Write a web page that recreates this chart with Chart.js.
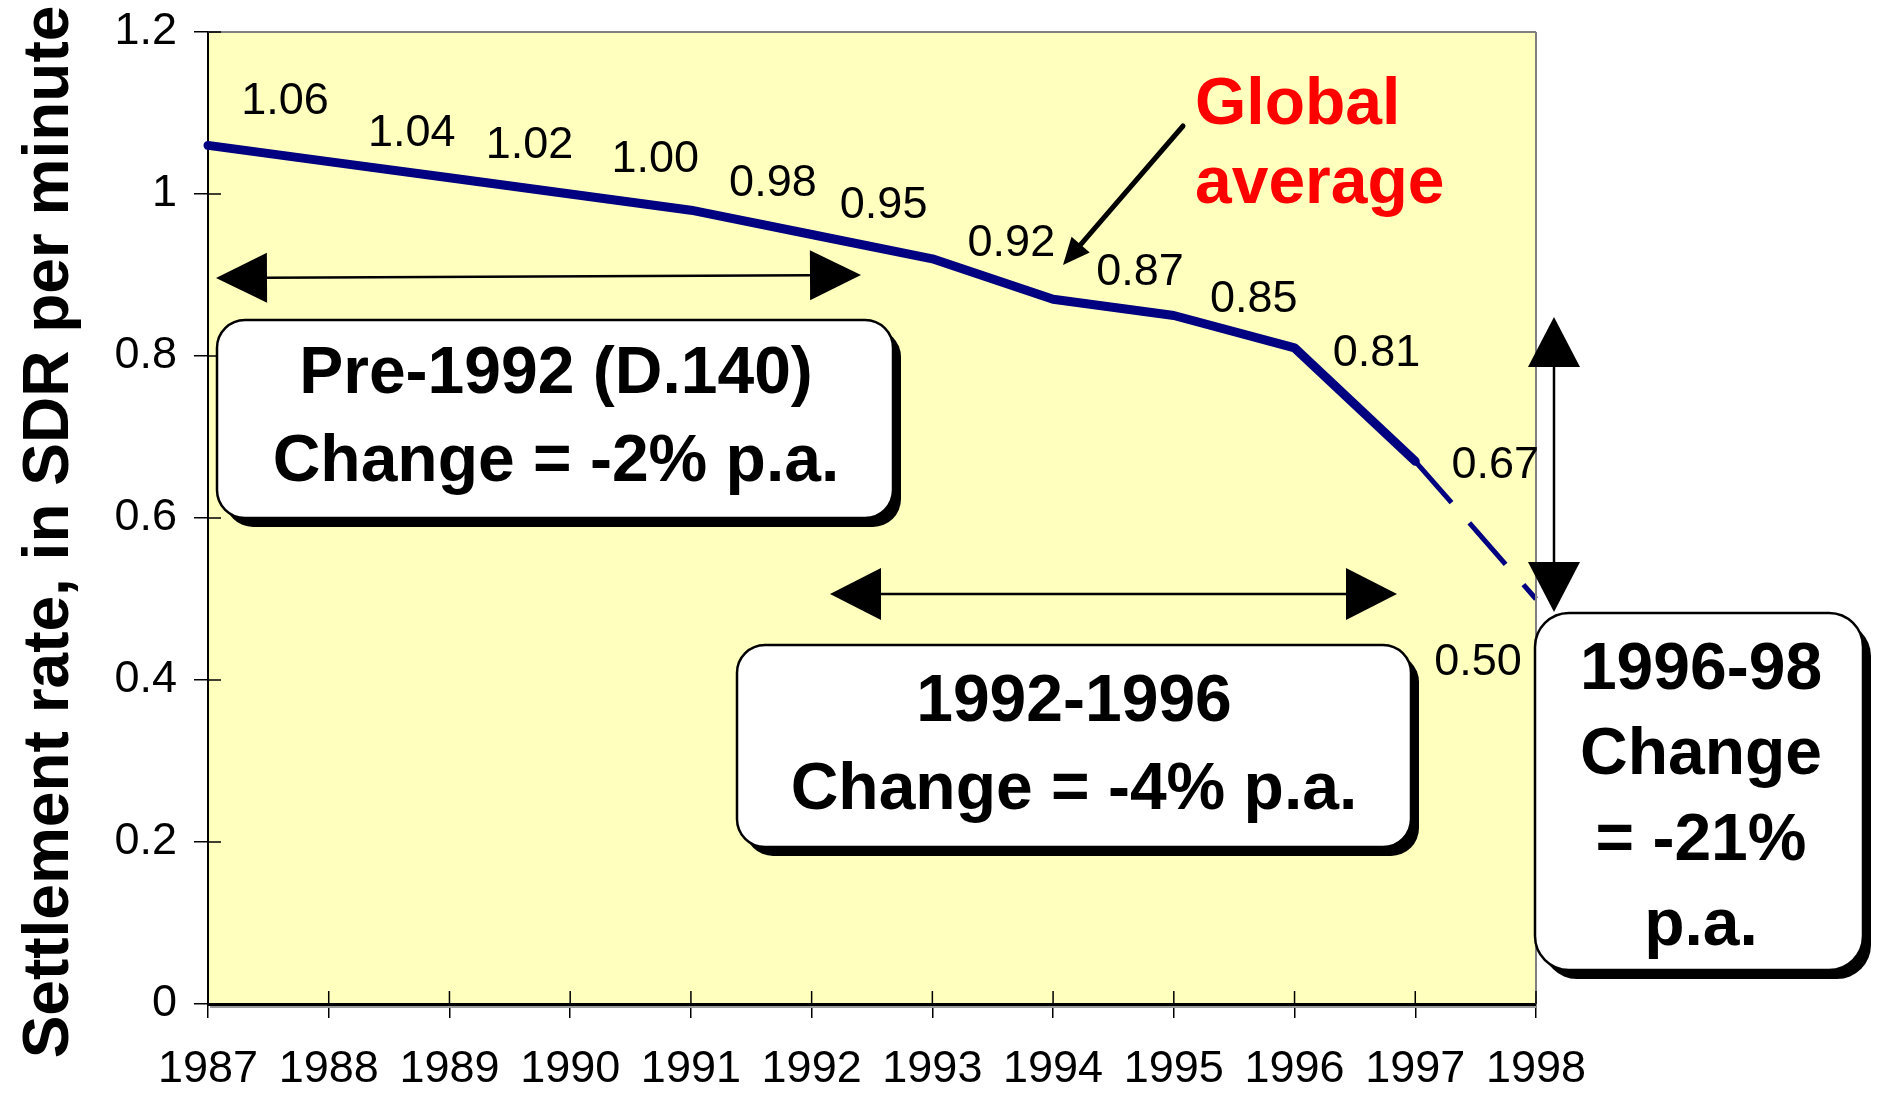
<!DOCTYPE html>
<html>
<head>
<meta charset="utf-8">
<title>Settlement rate</title>
<script src="https://cdn.jsdelivr.net/npm/chart.js@4/dist/chart.umd.min.js"></script>
<style>
  html, body { margin: 0; padding: 0; background: #ffffff; }
  canvas { display: block; }
</style>
</head>
<body>
<canvas id="chart" width="1879" height="1093"></canvas>
<script>
// ---- data ----
const years = ['1987', '1988', '1989', '1990', '1991', '1992', '1993', '1994', '1995', '1996', '1997', '1998'];
const rates = [1.06, 1.04, 1.02, 1.00, 0.98, 0.95, 0.92, 0.87, 0.85, 0.81, 0.67, 0.50];
const yTickLabels = ['0', '0.2', '0.4', '0.6', '0.8', '1', '1.2'];
const firstProjectedYear = '1997';   // line is dashed from this year on

// ---- texts ----
const axisTitle = 'Settlement rate, in SDR per minute';
const seriesNote = ['Global', 'average'];
const periodNotes = [
  ['Pre-1992 (D.140)', 'Change = -2% p.a.'],
  ['1992-1996', 'Change = -4% p.a.'],
  ['1996-98', 'Change', '= -21%', 'p.a.']
];

const FONT = "'Liberation Sans', Arial, Helvetica, sans-serif";
const NAVY = '#000080';
const NOTE_FONT = 'bold 66px ' + FONT;

const split = years.indexOf(firstProjectedYear);
const solidPart = rates.map((v, i) => (i <= split ? v : null));
const dashedPart = rates.map((v, i) => (i >= split ? v : null));

// where each value label sits relative to its point (px)
const labelOffsets = [[77, -47], [83, -32], [80, -36], [85, -38], [82, -30], [72, -33],
                      [79, -19], [87, -30], [80, -20], [82, 2], [80, 1], [-58, 60]];

function roundRect(ctx, x, y, w, h, r) {
  ctx.beginPath();
  ctx.moveTo(x + r, y);
  ctx.arcTo(x + w, y, x + w, y + h, r);
  ctx.arcTo(x + w, y + h, x, y + h, r);
  ctx.arcTo(x, y + h, x, y, r);
  ctx.arcTo(x, y, x + w, y, r);
  ctx.closePath();
}

function calloutBox(ctx, b, lines, cx, baselines) {
  ctx.save();
  ctx.fillStyle = '#000';
  roundRect(ctx, b.x + 8, b.y + 9, b.w, b.h, b.r);
  ctx.fill();
  ctx.fillStyle = '#fff';
  roundRect(ctx, b.x, b.y, b.w, b.h, b.r);
  ctx.fill();
  ctx.lineWidth = 2.5;
  ctx.strokeStyle = '#000';
  ctx.stroke();
  ctx.fillStyle = '#000';
  ctx.font = NOTE_FONT;
  ctx.textAlign = 'center';
  ctx.textBaseline = 'alphabetic';
  lines.forEach((t, i) => ctx.fillText(t, cx, baselines[i]));
  ctx.restore();
}

function tri(ctx, tip, baseCenter, half) {
  const dx = tip[0] - baseCenter[0], dy = tip[1] - baseCenter[1];
  const len = Math.hypot(dx, dy);
  const nx = -dy / len, ny = dx / len;
  ctx.beginPath();
  ctx.moveTo(tip[0], tip[1]);
  ctx.lineTo(baseCenter[0] + nx * half, baseCenter[1] + ny * half);
  ctx.lineTo(baseCenter[0] - nx * half, baseCenter[1] - ny * half);
  ctx.closePath();
  ctx.fill();
}

function doubleArrow(ctx, a, b, head, half, width) {
  const dx = b[0] - a[0], dy = b[1] - a[1];
  const len = Math.hypot(dx, dy);
  const ux = dx / len, uy = dy / len;
  const aBase = [a[0] + ux * head, a[1] + uy * head];
  const bBase = [b[0] - ux * head, b[1] - uy * head];
  ctx.save();
  ctx.strokeStyle = '#000';
  ctx.fillStyle = '#000';
  ctx.lineWidth = width;
  ctx.beginPath();
  ctx.moveTo(aBase[0], aBase[1]);
  ctx.lineTo(bBase[0], bBase[1]);
  ctx.stroke();
  tri(ctx, a, aBase, half);
  tri(ctx, b, bBase, half);
  ctx.restore();
}

function singleArrow(ctx, from, to, head, half, width) {
  const dx = to[0] - from[0], dy = to[1] - from[1];
  const len = Math.hypot(dx, dy);
  const ux = dx / len, uy = dy / len;
  const base = [to[0] - ux * head, to[1] - uy * head];
  ctx.save();
  ctx.strokeStyle = '#000';
  ctx.fillStyle = '#000';
  ctx.lineWidth = width;
  ctx.lineCap = 'round';
  ctx.beginPath();
  ctx.moveTo(from[0], from[1]);
  ctx.lineTo(base[0] + ux * 2, base[1] + uy * 2);
  ctx.stroke();
  tri(ctx, to, base, half);
  ctx.restore();
}

// yellow plot area
const plotBackground = {
  id: 'plotBackground',
  beforeDraw(chart) {
    const { ctx, chartArea: a } = chart;
    ctx.save();
    ctx.fillStyle = '#FFFFBE';
    ctx.fillRect(a.left, a.top, a.right - a.left, a.bottom - a.top);
    ctx.restore();
  }
};

// frame details, value labels and the period call-outs
const decorations = {
  id: 'decorations',
  afterDraw(chart) {
    const { ctx, chartArea: a, scales } = chart;
    const xs = scales.x, ys = scales.y;
    ctx.save();

    // gray top / right frame and the axis shadow
    ctx.strokeStyle = '#808080';
    ctx.lineWidth = 2;
    ctx.beginPath();
    ctx.moveTo(a.left, a.top); ctx.lineTo(a.right, a.top);
    ctx.moveTo(a.right, a.top); ctx.lineTo(a.right, a.bottom);
    ctx.stroke();
    ctx.strokeStyle = '#9a9a9a';
    ctx.lineWidth = 2;
    ctx.beginPath();
    ctx.moveTo(a.left + 2, a.bottom + 3); ctx.lineTo(a.right, a.bottom + 3);
    ctx.stroke();

    // tick marks crossing into the plot area
    ctx.strokeStyle = '#000';
    ctx.lineWidth = 1.5;
    ctx.beginPath();
    xs.ticks.forEach((t, i) => {
      const px = xs.getPixelForTick(i);
      ctx.moveTo(px, a.bottom); ctx.lineTo(px, a.bottom - 13);
    });
    ys.ticks.forEach((t, i) => {
      const py = ys.getPixelForTick(i);
      ctx.moveTo(a.left, py); ctx.lineTo(a.left + 13, py);
    });
    ctx.stroke();

    // axis title
    ctx.save();
    ctx.translate(68, 532);
    ctx.rotate(-Math.PI / 2);
    ctx.fillStyle = '#000';
    ctx.font = 'bold 64px ' + FONT;
    ctx.textAlign = 'center';
    ctx.textBaseline = 'alphabetic';
    ctx.fillText(axisTitle, 0, 0);
    ctx.restore();

    // value labels
    ctx.fillStyle = '#000';
    ctx.font = '45px ' + FONT;
    ctx.textAlign = 'center';
    ctx.textBaseline = 'alphabetic';
    rates.forEach((v, i) => {
      const px = xs.getPixelForValue(i);
      const py = ys.getPixelForValue(v);
      const off = labelOffsets[i];
      ctx.fillText(v.toFixed(2), px + off[0], py + off[1] + 16);
    });

    // series note
    ctx.fillStyle = '#FF0000';
    ctx.font = NOTE_FONT;
    ctx.textAlign = 'left';
    ctx.fillText(seriesNote[0], 1195, 124);
    ctx.fillText(seriesNote[1], 1195, 203);
    singleArrow(ctx, [1183, 126], [1063, 265], 27, 12, 5);

    // period arrows
    doubleArrow(ctx, [216, 278], [861, 275], 51, 25, 2.5);
    doubleArrow(ctx, [830, 594], [1397, 594], 51, 26, 2.5);
    doubleArrow(ctx, [1554, 317], [1554, 612], 50, 26, 2.5);

    // call-out boxes
    calloutBox(ctx, { x: 217, y: 320, w: 676, h: 198, r: 28 }, periodNotes[0], 556, [393, 481]);
    calloutBox(ctx, { x: 737, y: 645, w: 674, h: 202, r: 28 }, periodNotes[1], 1074, [721, 809]);
    calloutBox(ctx, { x: 1535, y: 613, w: 328, h: 357, r: 34 }, periodNotes[2], 1701, [689, 774, 860, 945]);

    ctx.restore();
  }
};

const axisGrid = {
  display: true,
  drawOnChartArea: false,
  drawTicks: true,
  tickLength: 14,
  color: '#000',
  lineWidth: 1.5
};

new Chart(document.getElementById('chart'), {
  type: 'line',
  data: {
    labels: years,
    datasets: [
      {
        data: solidPart,
        borderColor: NAVY,
        borderWidth: 9,
        borderCapStyle: 'round',
        borderJoinStyle: 'round',
        pointRadius: 0,
        tension: 0,
        clip: 10
      },
      {
        data: dashedPart,
        borderColor: NAVY,
        borderWidth: 5,
        borderDash: [55, 27],
        pointRadius: 0,
        tension: 0,
        clip: 10
      }
    ]
  },
  options: {
    responsive: false,
    animation: false,
    devicePixelRatio: 1,
    layout: { padding: { top: 32, right: 343, left: 0, bottom: 0 } },
    plugins: { legend: { display: false }, tooltip: { enabled: false } },
    scales: {
      x: {
        offset: false,
        grid: axisGrid,
        border: { display: true, color: '#000', width: 3 },
        ticks: {
          font: { family: FONT, size: 45 },
          color: '#000',
          padding: 25,
          autoSkip: false,
          maxRotation: 0,
          minRotation: 0
        },
        afterFit(scale) {
          scale.height = 89;
          scale.paddingLeft = 0;
          scale.paddingRight = 0;
        }
      },
      y: {
        min: 0,
        max: 1.2,
        grid: axisGrid,
        border: { display: true, color: '#000', width: 2 },
        ticks: {
          stepSize: 0.2,
          font: { family: FONT, size: 45 },
          color: '#000',
          padding: 17,
          callback: (v, i) => yTickLabels[i]
        },
        afterFit(scale) {
          scale.width = 208;
          scale.paddingTop = 0;
          scale.paddingBottom = 0;
        }
      }
    }
  },
  plugins: [plotBackground, decorations]
});
</script>
</body>
</html>
